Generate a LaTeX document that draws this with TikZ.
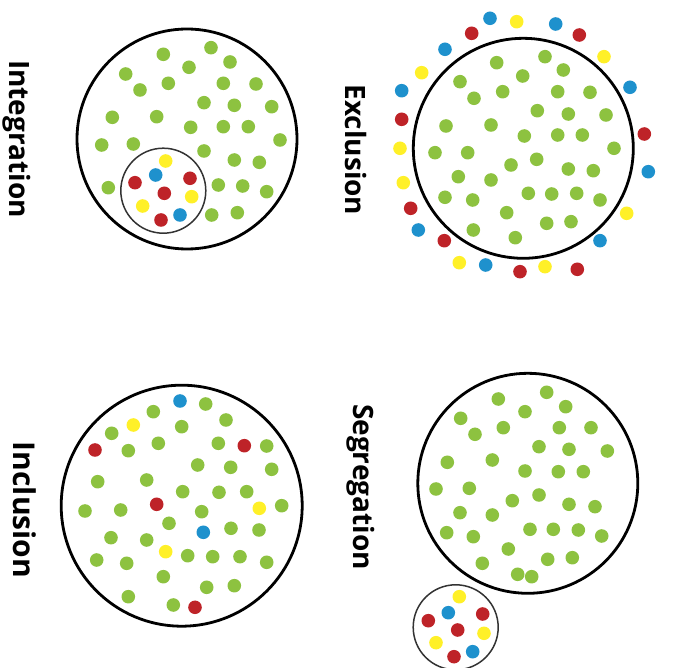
\documentclass[tikz,border=0pt]{standalone}
\usepackage{fontspec}
\setsansfont{Open Sans}
\definecolor{dgreen}{RGB}{141,194,64}
\definecolor{dred}{RGB}{190,35,40}
\definecolor{dblue}{RGB}{30,145,205}
\definecolor{dyellow}{RGB}{255,240,40}
\tikzset{
  big/.style={draw=black,line width=2.8pt,circle,inner sep=0pt},
  small/.style={draw=black!80,line width=1.5pt,circle,inner sep=0pt,minimum size=85pt},
  lab/.style={rotate=-90,font=\sffamily\bfseries\fontsize{28}{30}\selectfont,inner sep=0pt},
}
\newcommand{\mydots}[2]{\foreach \p in {#2}{\fill[#1] \p circle (6.8pt);}}
\begin{document}
\begin{tikzpicture}[x=1pt,y=-1pt]
\useasboundingbox (0,0) rectangle (673,668);
% ---------- Integration ----------
\node[big,minimum size=220pt] (intc) at (187,139) {};
\node[small] (ints) at (163.3,190.7) {};
\node[lab] (intl) at (17,139) {Integration};
\mydots{dgreen}{(163.3,54.3),(211,47.7),(230,62),(125.7,74),(189,67.3),(140,90),(168.3,83.3),(223.3,83.3),(256,84),(204,102.7),(234.3,105.3),(271.7,106.7),(112.3,117.3),(156.7,116.7),(190.7,127.3),(223.3,126.7),(248.3,126.7),(280,140),(101.7,145),(133.3,144),(204,151),(234.3,160),(259.3,162.3),(108.3,187.7),(218.3,185),(242.7,186),(266.7,191.7),(211.7,215),(237.3,212.7)}
\mydots{dyellow}{(165.7,161),(191.7,196.7),(142.7,206)}
\mydots{dblue}{(155.7,175),(180,215)}
\mydots{dred}{(135,182.7),(190,178.3),(164.3,193.3),(161,220)}
% ---------- Exclusion ----------
\node[big,minimum size=220pt] (exc) at (523.3,148.3) {};
\node[lab] (excl) at (356,150) {Exclusion};
\mydots{dgreen}{(496.7,62.7),(545,56.7),(563.3,70),(460,81.7),(522.7,76),(474,98.3),(502.7,91.7),(557.7,91.7),(590,92.3),(537.3,110.7),(568.3,114),(606,115),(446,126),(491,125),(524.3,136),(557.7,135),(582.3,135),(614,148.3),(435,152.7),(467.7,152.7),(536.7,159.3),(511,165),(568.3,169),(593.3,170.7),(458.3,176.7),(491,180),(528.3,193.3),(551.7,194),(576.7,193.3),(600,200),(445,197.3),(472.7,200),(506.7,212.7),(546.7,223.3),(571,221.7),(473.3,230),(515.3,237.7)}
\mydots{dblue}{(490,18.3),(555.7,24),(445,49.3),(630,87.3),(401.7,90.7),(648.3,171.7),(418.3,230),(600,240.7),(485.7,265)}
\mydots{dyellow}{(516.7,21.7),(604,56.7),(421.7,72.7),(400,148.3),(403.3,182.7),(626.7,213.3),(459.3,262.7),(545,266.7)}
\mydots{dred}{(471.7,33.3),(579.3,35),(401.7,119.3),(644.3,134),(410.7,208.3),(444.3,240.7),(520,271.7),(577.3,269.3)}
% ---------- Inclusion ----------
\node[big,minimum size=241pt] (inc) at (181.7,505.7) {};
\node[lab,font=\sffamily\bfseries\fontsize{30}{32}\selectfont] (incl) at (25,510) {Inclusion};
\mydots{dgreen}{(205.7,404),(153.3,411.7),(181.7,426.7),(226,420),(111.7,433.3),(128.3,450.7),(158.3,443.3),(218.3,443.3),(266.7,446),(197.7,465),(230.7,467.3),(271.7,469.3),(97.7,481.7),(146.7,480),(182.7,491.7),(219,492.3),(246.7,491.7),(85,511),(120.7,510),(201.7,511.7),(281.7,505.7),(169,523.3),(231,528.3),(259,530),(111,537.7),(146.7,540),(187.7,555.7),(212.7,556.7),(240,556.7),(266.7,562.3),(96.7,560),(126.7,563.3),(163.3,576.7),(206.7,587.3),(234.3,585.7),(128.3,596.7),(173.3,605)}
\mydots{dblue}{(180,401),(203.3,532.3)}
\mydots{dyellow}{(133.3,425),(259.3,508.3),(165.7,551.7)}
\mydots{dred}{(95,450),(244.3,445.7),(156.7,504.3),(195,607.3)}
% ---------- Segregation ----------
\node[big,minimum size=220pt] (sec) at (527.8,483.3) {};
\node[small] (ses) at (455.7,627.3) {};
\node[lab] (segl) at (361,487) {Segregation};
\mydots{dgreen}{(498.3,399),(546.7,392.3),(565.7,406.7),(460.7,418.3),(525,411.7),(475,434.3),(503.3,427.7),(559.3,427.7),(591,427.7),(539,446.7),(569,449.3),(607.3,451),(447.3,462.3),(492.3,460),(525,471),(558.3,471.7),(583.3,471.7),(436,489),(469.3,488.3),(539,495),(512.3,500.7),(569,504.3),(595,506.7),(460,512.7),(492.3,515),(530,529.3),(553.3,529.3),(578.3,530),(601.7,536),(446.7,532.7),(473.3,536.7),(508.3,549),(547.7,559.3),(572.3,557.7),(482.3,563.3),(517.7,574.3),(531.7,576.7)}
\mydots{dyellow}{(459.3,596.7),(484,633.3),(436,642.7)}
\mydots{dblue}{(448.3,612.7),(472.7,651.7)}
\mydots{dred}{(428.3,620.7),(482.7,614),(457.7,630),(454,656.7)}
\end{tikzpicture}
\end{document}
